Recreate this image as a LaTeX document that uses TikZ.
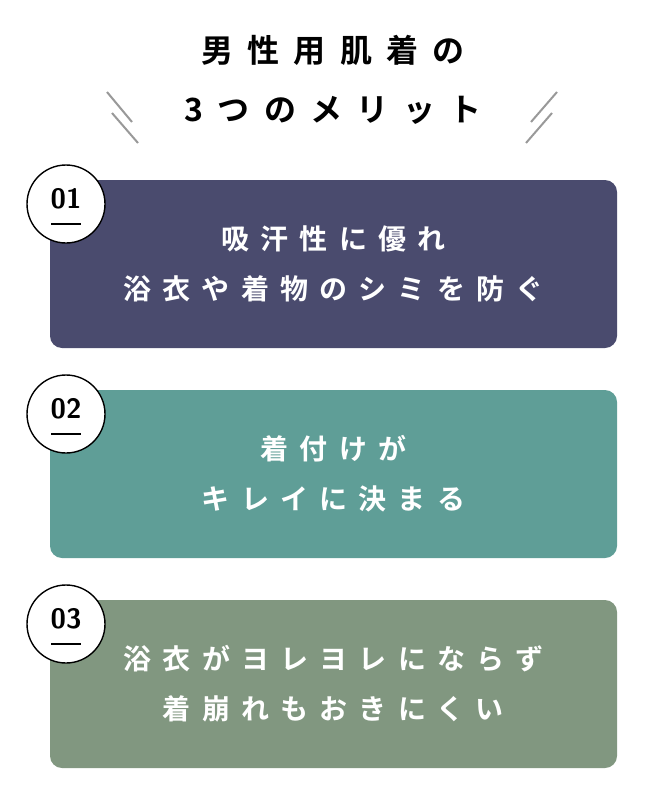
\documentclass[tikz,border=0pt]{standalone}
\usepackage{fontspec}
\newfontfamily\jpfont[LetterSpace=40]{Noto Sans CJK JP Bold}
\newfontfamily\titlefont[LetterSpace=45]{Noto Sans CJK JP Bold}
\definecolor{boxone}{HTML}{4A4B6E}
\definecolor{boxtwo}{HTML}{5F9E97}
\definecolor{boxthree}{HTML}{819780}
\tikzset{
  meritbox/.style={rounded corners=12pt, minimum width=567pt, minimum height=168pt, inner sep=0pt},
  merittext/.style={text=white, font=\jpfont\fontsize{28}{50}\selectfont, align=center},
  numcircle/.style={circle, draw=black, line width=1.4pt, fill=white, minimum size=78pt, inner sep=0pt},
  numtext/.style={font=\sffamily\bfseries\fontsize{28}{28}\selectfont},
  slash/.style={draw=gray!80, line width=2pt}
}
\begin{document}
\begin{tikzpicture}[x=1pt,y=-1pt]
\useasboundingbox (0,0) rectangle (650,800);
% title
\node[font=\titlefont\fontsize{32}{32}\selectfont] (title1) at (333,50) {男性用肌着の};
\node[font=\titlefont\fontsize{32}{32}\selectfont] (title2) at (333,110) {3つのメリット};
\draw[slash] (107,92) -- (132,122);
\draw[slash] (112,113) -- (138,143);
\draw[slash] (557,92) -- (531,122);
\draw[slash] (552,113) -- (526,143);
% boxes
\node[meritbox, fill=boxone] (box1) at (333.5,264) {};
\node[meritbox, fill=boxtwo] (box2) at (333.5,474) {};
\node[meritbox, fill=boxthree] (box3) at (333.5,684) {};
\node[merittext] (text1) at (box1) {吸汗性に優れ\\浴衣や着物のシミを防ぐ};
\node[merittext] (text2) at (box2) {着付けが\\キレイに決まる};
\node[merittext] (text3) at (box3) {浴衣がヨレヨレにならず\\着崩れもおきにくい};
% number circles
\foreach \n/\y in {1/204,2/414,3/624}{
  \node[numcircle] (num\n) at (66,\y) {};
  \node[numtext] (lab\n) at (66,\y-5) {0\n};
  \draw[line width=1.4pt] (51,\y+20) -- (81,\y+20);
}
\end{tikzpicture}
\end{document}
